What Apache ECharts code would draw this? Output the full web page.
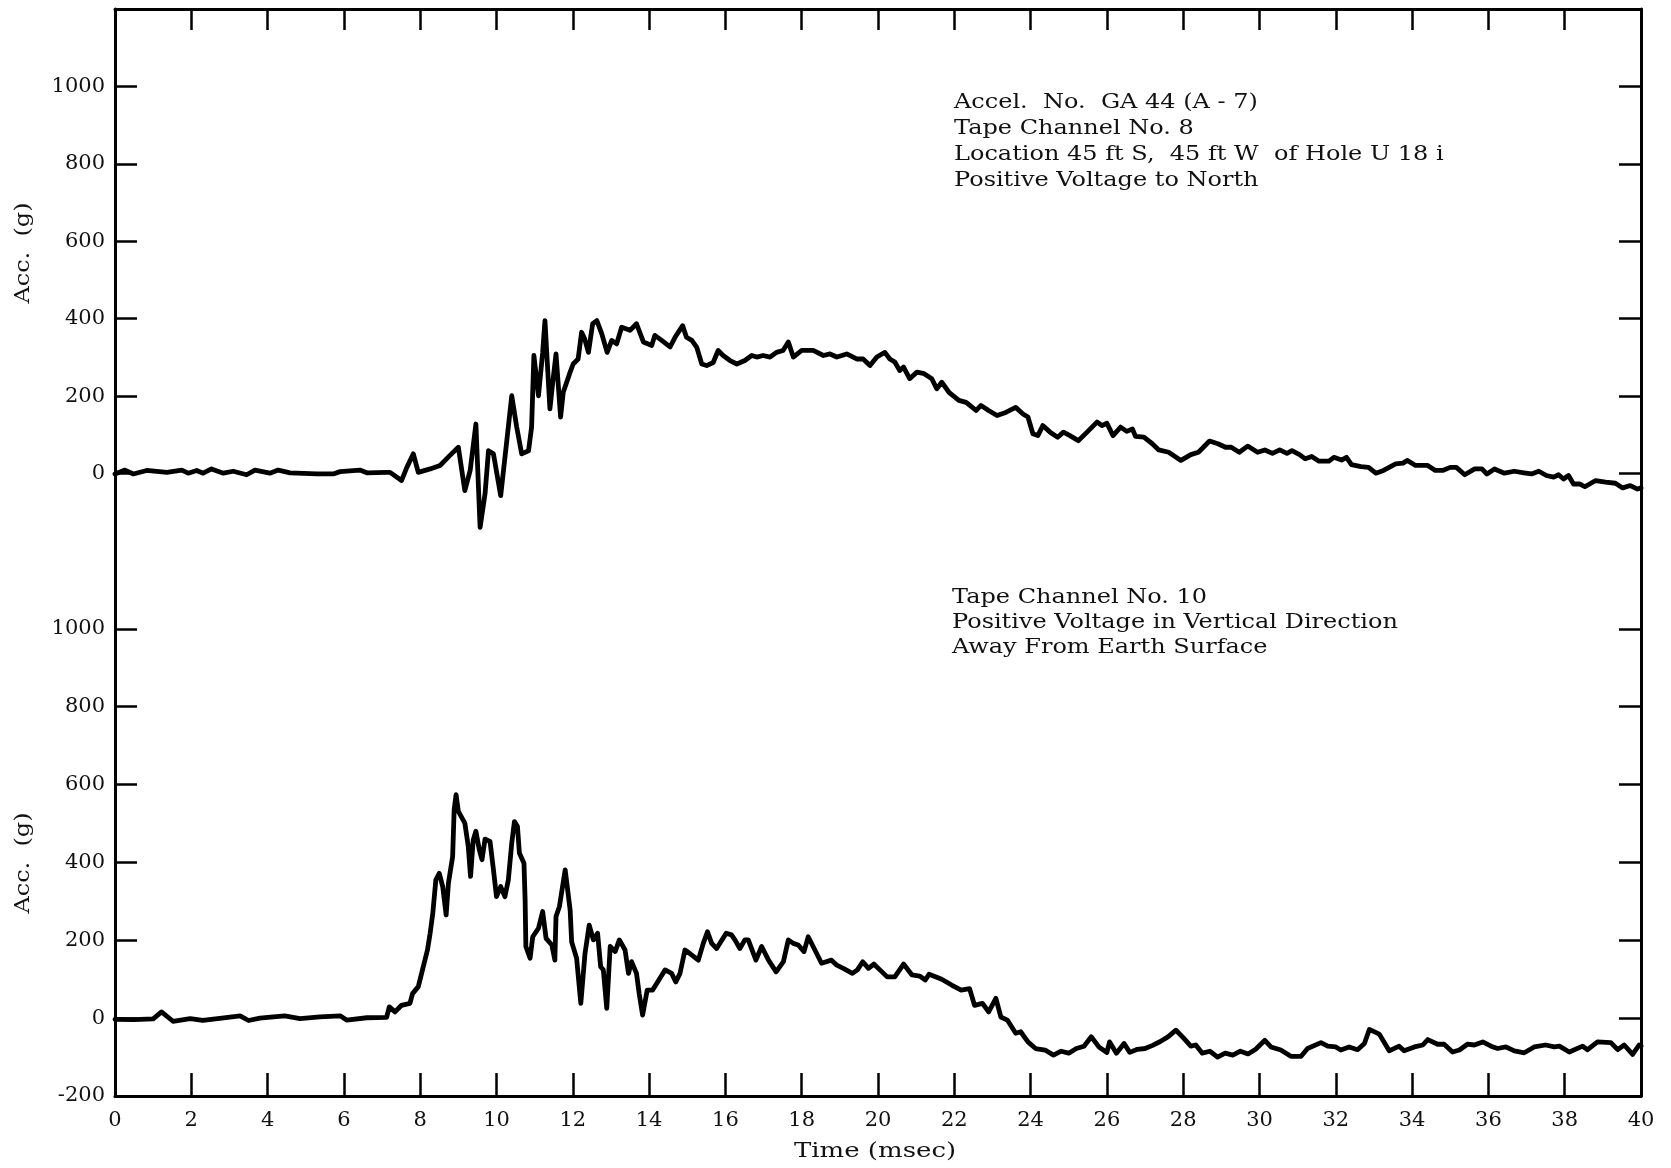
<!DOCTYPE html>
<html>
<head>
<meta charset="utf-8">
<script src="https://cdn.jsdelivr.net/npm/echarts@6/dist/echarts.min.js"></script>
<style>
html,body{margin:0;padding:0;background:#fff;}
#chart{width:1671px;height:1168px;}
</style>
</head>
<body>
<div id="chart"></div>
<script>
// ---- data (time in msec, acceleration in g) ----
var xTicks = [0,2,4,6,8,10,12,14,16,18,20,22,24,26,28,30,32,34,36,38,40];
var topYLabels = [0,200,400,600,800,1000];
var bottomYLabels = [-200,0,200,400,600,800,1000];

var topTime = [0,0.26,0.48,0.83,1.36,1.75,1.92,2.14,2.31,2.53,2.84,3.1,3.45,3.67,4.06,4.28,4.59,5.29,5.72,5.9,6.42,6.6,7.12,7.21,7.51,7.65,7.82,7.95,8.26,8.52,8.78,9.0,9.17,9.31,9.46,9.57,9.70,9.79,9.92,10.11,10.27,10.40,10.53,10.66,10.84,10.92,10.98,11.10,11.21,11.27,11.40,11.47,11.56,11.68,11.75,11.93,12.01,12.14,12.23,12.31,12.41,12.52,12.63,12.76,12.90,13.02,13.15,13.28,13.50,13.67,13.85,14.07,14.15,14.33,14.55,14.68,14.88,14.98,15.12,15.25,15.38,15.51,15.68,15.81,15.94,16.12,16.30,16.51,16.69,16.82,16.99,17.17,17.34,17.51,17.65,17.78,18.0,18.30,18.57,18.74,18.92,19.18,19.44,19.61,19.79,19.97,20.18,20.31,20.44,20.57,20.67,20.83,21.02,21.21,21.41,21.54,21.67,21.86,22.12,22.31,22.57,22.70,22.90,23.12,23.35,23.61,23.80,23.93,24.06,24.19,24.32,24.51,24.71,24.86,25.03,25.25,25.48,25.74,25.87,26.0,26.16,26.36,26.52,26.67,26.75,26.97,27.19,27.36,27.62,27.94,28.20,28.40,28.69,28.91,29.11,29.26,29.47,29.69,29.95,30.14,30.34,30.53,30.72,30.85,31.05,31.20,31.37,31.56,31.82,31.95,32.15,32.28,32.41,32.66,32.86,33.05,33.25,33.57,33.76,33.87,34.09,34.41,34.61,34.80,35.0,35.16,35.38,35.64,35.83,35.96,36.16,36.42,36.68,36.93,37.13,37.32,37.52,37.71,37.84,37.97,38.10,38.23,38.40,38.53,38.81,39.07,39.33,39.52,39.72,39.91,40];
var topAcc = [-1,9,-1,8,3,9,1,8,1,12,1,6,-3,9,1,9,2,-1,-1,5,9,2,3,3,-18,16,51,3,12,21,47,68,-44,8,128,-139,-52,59,51,-57,85,201,120,51,59,120,305,201,313,395,167,232,309,146,210,262,283,296,365,348,313,387,395,361,313,344,335,378,370,387,340,331,357,344,327,352,382,352,344,326,283,279,287,318,305,292,283,292,305,301,305,301,313,318,340,301,318,318,305,309,301,309,296,296,279,301,313,296,288,266,275,245,262,258,245,219,236,210,189,184,163,176,163,150,158,171,154,146,103,98,124,107,94,107,98,85,107,133,124,130,98,120,109,115,96,94,77,61,55,34,49,55,84,77,68,68,55,71,55,61,52,61,52,59,49,38,44,32,32,42,35,42,23,18,16,1,8,25,27,34,21,21,8,8,16,16,-3,12,12,-1,12,1,6,2,-1,6,-5,-9,-3,-14,-5,-27,-27,-34,-18,-22,-25,-37,-31,-40,-37];

var bottomTime = [0,0.5,1.0,1.22,1.52,1.97,2.3,2.8,3.28,3.5,3.8,4.15,4.45,4.85,5.37,5.9,6.07,6.6,7.12,7.19,7.34,7.51,7.73,7.80,7.95,8.06,8.19,8.26,8.33,8.41,8.50,8.59,8.68,8.74,8.85,8.89,8.94,9.0,9.17,9.26,9.32,9.39,9.46,9.55,9.62,9.70,9.83,9.92,10.0,10.11,10.22,10.31,10.40,10.47,10.55,10.60,10.72,10.75,10.77,10.88,10.95,11.10,11.21,11.30,11.45,11.53,11.56,11.65,11.80,11.93,11.97,12.10,12.21,12.32,12.43,12.54,12.65,12.73,12.80,12.89,12.98,13.11,13.22,13.37,13.46,13.54,13.67,13.74,13.83,13.95,14.09,14.28,14.42,14.59,14.70,14.81,14.94,15.07,15.29,15.42,15.53,15.64,15.77,16.02,16.16,16.25,16.38,16.51,16.60,16.80,16.95,17.13,17.33,17.52,17.65,17.78,17.91,18.06,18.17,18.30,18.52,18.78,18.92,19.09,19.33,19.46,19.60,19.75,19.89,20.05,20.24,20.44,20.67,20.89,21.09,21.24,21.34,21.67,21.93,22.18,22.40,22.53,22.74,22.90,23.09,23.22,23.39,23.61,23.74,23.93,24.13,24.38,24.6,24.8,25.0,25.2,25.4,25.59,25.8,26.0,26.07,26.25,26.45,26.6,26.8,27.0,27.2,27.4,27.6,27.81,28.0,28.2,28.33,28.5,28.7,28.9,29.1,29.3,29.5,29.7,29.9,30.14,30.3,30.56,30.82,31.09,31.26,31.61,31.79,32.0,32.13,32.35,32.57,32.75,32.88,33.14,33.40,33.66,33.79,34.06,34.28,34.41,34.67,34.84,35.06,35.24,35.45,35.63,35.85,36.07,36.24,36.46,36.68,36.94,37.2,37.5,37.73,37.86,38.12,38.47,38.6,38.86,39.21,39.39,39.56,39.78,39.95,40];
var bottomAcc = [-3,-4,-2,16,-8,-1,-6,0,6,-6,0,3,6,-1,3,6,-5,1,2,29,16,33,38,63,81,124,175,218,269,355,372,338,265,347,415,535,574,531,501,441,364,458,480,432,407,460,454,381,312,338,312,355,450,505,492,424,398,304,184,154,209,231,274,205,188,149,261,287,381,278,196,154,38,166,239,201,218,132,124,25,184,171,201,175,115,145,115,63,8,72,72,102,124,115,93,115,175,166,149,192,222,192,179,218,214,201,179,201,201,149,184,149,119,145,201,192,188,171,209,184,141,149,136,128,115,124,145,128,139,124,106,106,139,111,108,98,113,100,85,72,76,33,38,16,51,3,-5,-39,-35,-61,-78,-82,-95,-85,-90,-78,-72,-48,-75,-88,-61,-90,-65,-88,-80,-78,-70,-60,-48,-31,-50,-72,-69,-90,-85,-100,-90,-95,-85,-92,-80,-57,-74,-82,-98,-98,-78,-63,-72,-74,-82,-74,-81,-65,-29,-41,-84,-72,-84,-74,-69,-55,-67,-67,-87,-82,-67,-69,-61,-72,-78,-74,-84,-89,-74,-69,-74,-72,-87,-72,-81,-61,-63,-81,-69,-93,-69,-72];

var topNote = ['Accel.  No.  GA 44 (A - 7)', 'Tape Channel No. 8', 'Location 45 ft S,  45 ft W  of Hole U 18 i', 'Positive Voltage to North'];
var bottomNote = ['Tape Channel No. 10', 'Positive Voltage in Vertical Direction', 'Away From Earth Surface'];
var yName = 'Acc.  (g)';
var xName = 'Time (msec)';

function zip(a, b) { return a.map(function (v, i) { return [v, b[i]]; }); }

var FONT = '"DejaVu Serif", "Liberation Serif", serif';
var INK = '#111';
var lineS = { color: '#000', width: 3 };
var tickS = { color: '#000', width: 2.5 };
function plain(v) { return String(v); }

function yLeft(grid, labels, ticks) {
  return {
    type: 'value', gridIndex: grid, position: 'left', min: -200, max: 1200, interval: 200,
    axisLine: { show: true, onZero: false, lineStyle: lineS },
    axisTick: { show: true, inside: true, length: 22, lineStyle: tickS, customValues: ticks },
    axisLabel: { show: true, margin: 10, color: INK, fontFamily: FONT, fontSize: 21, customValues: labels, formatter: plain },
    splitLine: { show: false }
  };
}
function yRight(grid, ticks) {
  return {
    type: 'value', gridIndex: grid, position: 'right', min: -200, max: 1200, interval: 200,
    axisLine: { show: true, onZero: false, lineStyle: lineS },
    axisTick: { show: true, inside: true, length: 22, lineStyle: tickS, customValues: ticks },
    axisLabel: { show: false },
    splitLine: { show: false }
  };
}

var chart = echarts.init(document.getElementById('chart'), null, { renderer: 'canvas' });
chart.setOption({
  animation: false,
  backgroundColor: '#fff',
  grid: [
    { left: 115, right: 30, top: 9, height: 542 },
    { left: 115, right: 30, top: 551, height: 545 }
  ],
  xAxis: [
    {
      type: 'value', gridIndex: 0, position: 'top', min: 0, max: 40, interval: 2,
      axisLine: { show: true, onZero: false, lineStyle: lineS },
      axisTick: { show: true, inside: true, length: 21, lineStyle: tickS },
      axisLabel: { show: false }, splitLine: { show: false }
    },
    {
      type: 'value', gridIndex: 1, position: 'bottom', min: 0, max: 40, interval: 2,
      axisLine: { show: true, onZero: false, lineStyle: lineS },
      axisTick: { show: true, inside: true, length: 23, lineStyle: tickS },
      axisLabel: { show: true, margin: 14, color: INK, fontFamily: FONT, fontSize: 21, customValues: xTicks, formatter: plain },
      splitLine: { show: false }
    }
  ],
  yAxis: [
    yLeft(0, topYLabels, topYLabels),
    yRight(0, topYLabels),
    yLeft(1, bottomYLabels, bottomYLabels),
    yRight(1, bottomYLabels)
  ],
  series: [
    {
      type: 'line', xAxisIndex: 0, yAxisIndex: 0, data: zip(topTime, topAcc),
      showSymbol: false, symbol: 'none', smooth: false,
      lineStyle: { color: '#000', width: 4.8, join: 'round', cap: 'round' }
    },
    {
      type: 'line', xAxisIndex: 1, yAxisIndex: 2, data: zip(bottomTime, bottomAcc),
      showSymbol: false, symbol: 'none', smooth: false,
      lineStyle: { color: '#000', width: 4.8, join: 'round', cap: 'round' }
    }
  ],
  graphic: [
    {
      type: 'text', x: 954, y: 90, scaleX: 1.2,
      style: { text: topNote.join('\n'), font: '20px ' + FONT, lineHeight: 26, fill: INK, align: 'left', verticalAlign: 'top' }
    },
    {
      type: 'text', x: 952, y: 585, scaleX: 1.2,
      style: { text: bottomNote.join('\n'), font: '20px ' + FONT, lineHeight: 25, fill: INK, align: 'left', verticalAlign: 'top' }
    },
    {
      type: 'text', x: 24, y: 253, rotation: Math.PI / 2, scaleX: 1.2,
      style: { text: yName, font: '20px ' + FONT, fill: INK, align: 'center', verticalAlign: 'middle' }
    },
    {
      type: 'text', x: 24, y: 863, rotation: Math.PI / 2, scaleX: 1.2,
      style: { text: yName, font: '20px ' + FONT, fill: INK, align: 'center', verticalAlign: 'middle' }
    },
    {
      type: 'text', x: 875, y: 1152, scaleX: 1.3,
      style: { text: xName, font: '20px ' + FONT, fill: INK, align: 'center', verticalAlign: 'middle' }
    }
  ]
});
</script>
</body>
</html>
